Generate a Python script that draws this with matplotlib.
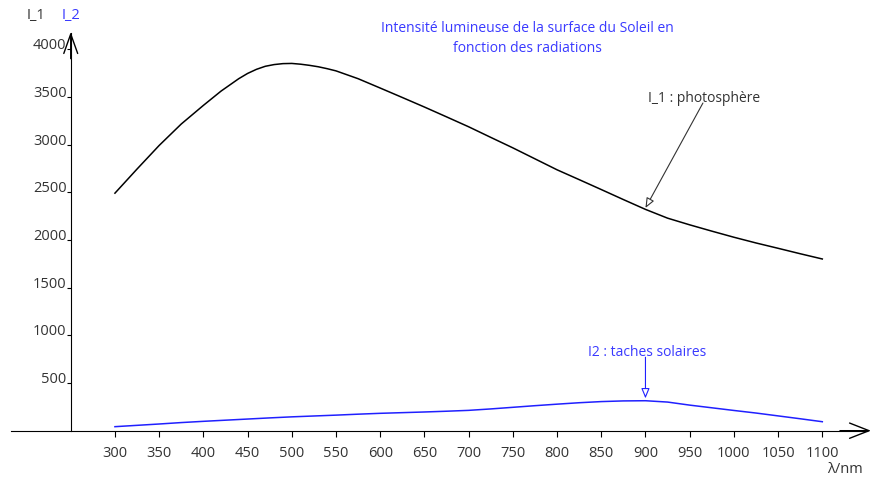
import matplotlib.pyplot as plt

plt.rcParams['font.family'] = ['Open Sans', 'DejaVu Sans']

# I_1 : photosphere, longueurs d'onde (nm) et intensites
i1_wavelengths = [300, 325, 350, 375, 400, 420, 440, 450, 460, 470, 480,
                  490, 500, 510, 520, 530, 540, 550, 575, 600, 625, 650,
                  675, 700, 725, 750, 775, 800, 825, 850, 875, 900, 925,
                  950, 975, 1000, 1025, 1050, 1075, 1100]
i1_values = [2490, 2743, 2990, 3215, 3410, 3560, 3690, 3745, 3788, 3820, 3838,
             3848, 3850, 3842, 3830, 3815, 3795, 3772, 3690, 3592, 3493, 3393,
             3290, 3186, 3075, 2965, 2850, 2735, 2632, 2528, 2423, 2320, 2228,
             2158, 2092, 2028, 1968, 1912, 1855, 1800]

# I_2 : taches solaires
i2_wavelengths = [300, 325, 350, 375, 400, 425, 450, 475, 500, 525, 550,
                  575, 600, 625, 650, 675, 700, 725, 750, 775, 800, 825,
                  850, 875, 900, 925, 950, 975, 1000, 1025, 1050, 1075, 1100]
i2_values = [42, 56, 70, 85, 98, 110, 122, 134, 145, 154, 163,
             173, 182, 189, 196, 204, 213, 228, 245, 262, 278, 293,
             305, 312, 314, 300, 268, 240, 212, 185, 155, 125, 94]

x_ticks = list(range(300, 1101, 50))
y_ticks = [500, 1000, 1500, 2000, 2500, 3000, 3500, 4000]

BLUE = '#3a3aff'
GREY = '#333333'


def main():
    fig = plt.figure(figsize=(8.78, 4.82), dpi=100)
    ax = fig.add_axes([0, 0, 1, 1])
    ax.set_xlim(170, 1163)
    ax.set_ylim(-538, 4515)

    ax.plot(i1_wavelengths, i1_values, color='black', lw=1.1)
    ax.plot(i2_wavelengths, i2_values, color='#2020ff', lw=1.1)

    # axes
    for side in ['top', 'right']:
        ax.spines[side].set_visible(False)
    ax.spines['bottom'].set_position(('data', 0))
    ax.spines['left'].set_position(('data', 250))
    ax.spines['bottom'].set_bounds(182, 1150)
    ax.spines['left'].set_bounds(0, 4170)

    ax.annotate('', xy=(1155, 0), xytext=(1120, 0),
                arrowprops=dict(arrowstyle='->,head_length=1.4,head_width=0.55',
                                color='black', lw=1, shrinkA=0, shrinkB=0))
    ax.annotate('', xy=(250, 4180), xytext=(250, 3900),
                arrowprops=dict(arrowstyle='->,head_length=1.4,head_width=0.5',
                                color='black', lw=1, shrinkA=0, shrinkB=0))

    ax.set_xticks(x_ticks)
    ax.set_xticklabels([str(v) for v in x_ticks])
    ax.set_yticks(y_ticks)
    ax.set_yticklabels([str(v) for v in y_ticks])
    ax.tick_params(axis='x', direction='out', length=4, pad=7,
                   labelsize=10.5, labelcolor=GREY)
    ax.tick_params(axis='y', direction='out', length=3, pad=0,
                   labelsize=10.5, labelcolor=GREY)
    for lab in ax.get_yticklabels():
        lab.set_verticalalignment('baseline')

    # textes
    ax.text(211, 4350, 'I_1', fontsize=10.5, color=GREY, ha='center', va='center')
    ax.text(250, 4350, 'I_2', fontsize=10.5, color=BLUE, ha='center', va='center')
    ax.text(1126, -412, 'λ/nm', fontsize=10.5, color=GREY, ha='center', va='center')

    ax.text(767, 4110, 'Intensité lumineuse de la surface du Soleil en\nfonction des radiations',
            fontsize=10, color=BLUE, ha='center', va='center', linespacing=1.45)

    ax.text(903, 3487, 'I_1 : photosphère', fontsize=10, color=GREY,
            ha='left', va='center')
    ax.annotate('', xy=(900, i1_values[31] + 15), xytext=(965, 3435),
                arrowprops=dict(arrowstyle='-|>,head_length=0.6,head_width=0.25',
                                fc='white', ec='#333333', lw=0.8,
                                shrinkA=0, shrinkB=0))

    ax.text(902, 822, 'I2 : taches solaires', fontsize=10, color=BLUE,
            ha='center', va='center')
    ax.annotate('', xy=(900, i2_values[24] + 25), xytext=(900, 770),
                arrowprops=dict(arrowstyle='-|>,head_length=0.6,head_width=0.25',
                                fc='white', ec='#2020ff', lw=0.8,
                                shrinkA=0, shrinkB=0))

    fig.savefig('out.png', dpi=100)


if __name__ == '__main__':
    main()
